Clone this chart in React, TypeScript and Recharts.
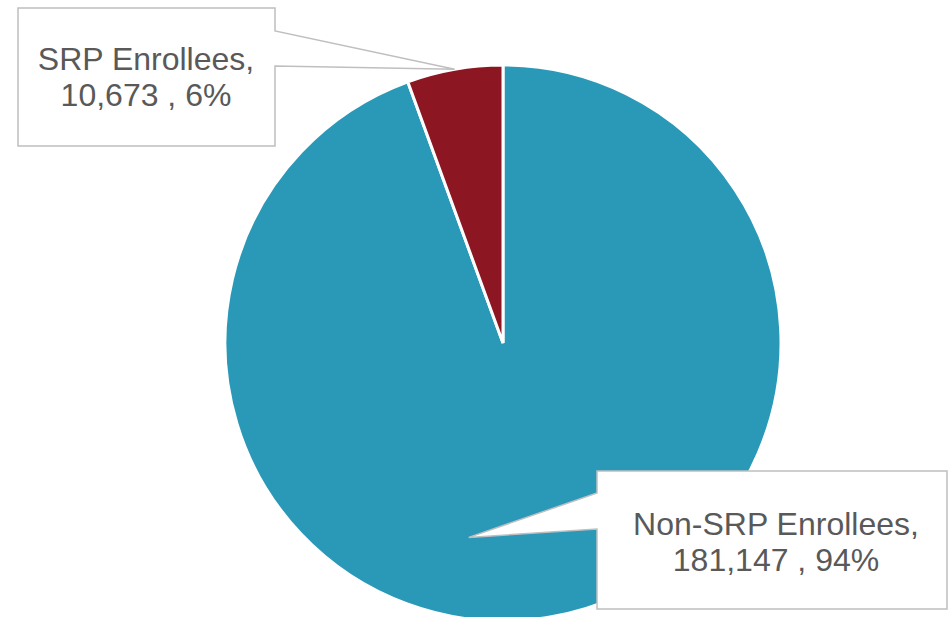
import { PieChart, Pie, Cell } from 'recharts';

const categories = ['Non-SRP Enrollees', 'SRP Enrollees'];
const enrollees = [181147, 10673];
const sliceColors = ['#2A99B8', '#8C1621'];

const data = categories.map((name, i) => ({ name, value: enrollees[i] }));

// callout box layout per slice: box rect, pointer base on a box side, tip offset from centre
const callouts = [
  { x: 597, y: 471, w: 350, h: 138, side: 'left', b1: 22, b2: 58, tipR: 0.71, tipAngle: 260, tx: 776, ty: 535 },
  { x: 18, y: 8, w: 257, h: 138, side: 'right', b1: 23, b2: 58, tipR: 1.0, tipAngle: null, tx: 146, ty: 70 },
];

const RAD = Math.PI / 180;

const renderCallout = (props: any) => {
  const { cx, cy, midAngle, outerRadius, index, name, value, percent } = props;
  const c = callouts[index];
  const ang = c.tipAngle ?? midAngle;
  const tipX = cx + Math.cos(-ang * RAD) * outerRadius * c.tipR;
  const tipY = cy + Math.sin(-ang * RAD) * outerRadius * c.tipR;
  const { x, y, w, h } = c;
  let d: string;
  if (c.side === 'right') {
    d = `M${x},${y} L${x + w},${y} L${x + w},${y + c.b1} L${tipX},${tipY} L${x + w},${y + c.b2} L${x + w},${y + h} L${x},${y + h} Z`;
  } else {
    d = `M${x},${y} L${x + w},${y} L${x + w},${y + h} L${x},${y + h} L${x},${y + c.b2} L${tipX},${tipY} L${x},${y + c.b1} Z`;
  }
  const pct = Math.round(percent * 100);
  return (
    <g key={`callout-${index}`}>
      <path d={d} fill="#ffffff" stroke="#BFBFBF" strokeWidth={1.5} />
      <text
        x={c.tx}
        y={c.ty}
        textAnchor="middle"
        fill="#595959"
        style={{ fontFamily: '"Liberation Sans", Arial, sans-serif', fontSize: 32 }}
      >
        <tspan x={c.tx} y={c.ty}>{`${name},`}</tspan>
        <tspan x={c.tx} y={c.ty + 36}>{`${value.toLocaleString('en-US')} , ${pct}%`}</tspan>
      </text>
    </g>
  );
};

export default function App() {
  return (
    <div style={{ position: 'absolute', left: 0, top: 0, background: '#ffffff' }}>
      <PieChart width={948} height={617} margin={{ top: 0, right: 0, bottom: 0, left: 0 }}>
        <Pie
          data={data}
          dataKey="value"
          nameKey="name"
          cx={503}
          cy={343}
          outerRadius={278}
          startAngle={90}
          endAngle={-270}
          stroke="#ffffff"
          strokeWidth={3}
          label={renderCallout}
          labelLine={false}
          isAnimationActive={false}
        >
          {data.map((d, i) => (
            <Cell key={d.name} fill={sliceColors[i]} />
          ))}
        </Pie>
      </PieChart>
    </div>
  );
}
